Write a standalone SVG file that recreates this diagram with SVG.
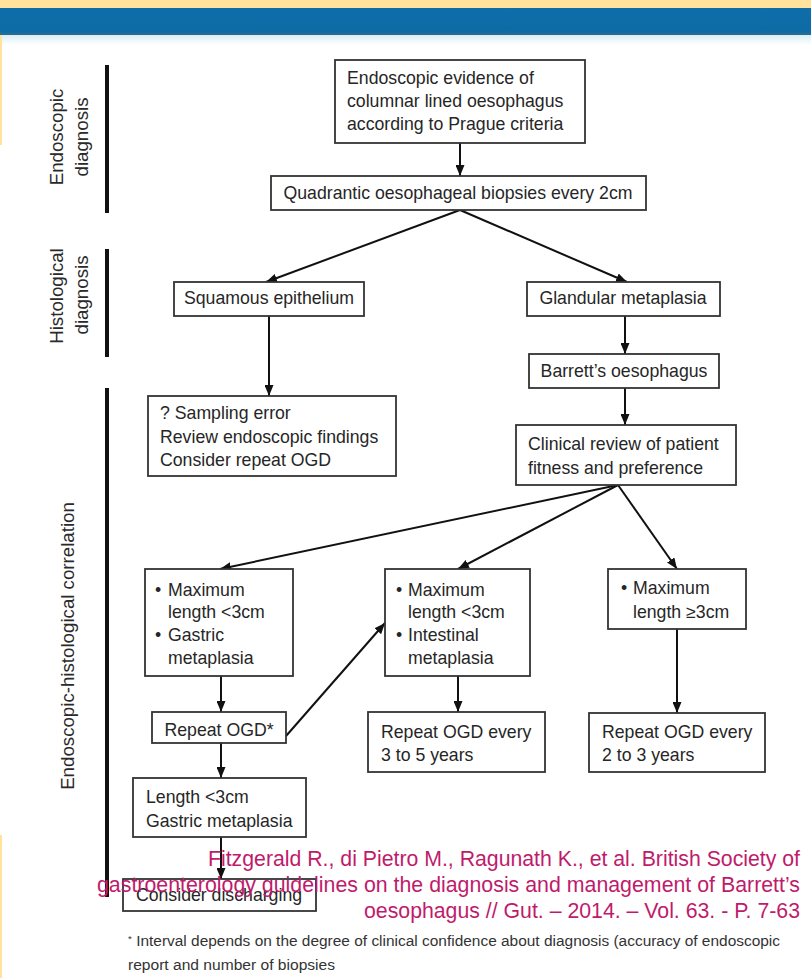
<svg xmlns="http://www.w3.org/2000/svg" width="811" height="978" viewBox="0 0 811 978">
<defs>
<linearGradient id="fade" x1="0" y1="0" x2="0" y2="1">
<stop offset="0" stop-color="#d8eef4"/>
<stop offset="1" stop-color="#ffffff"/>
</linearGradient>
<linearGradient id="band" x1="0" y1="0" x2="0" y2="1">
<stop offset="0" stop-color="#0f6ea9"/>
<stop offset="0.85" stop-color="#0d6ca6"/>
<stop offset="1" stop-color="#2b6f8e"/>
</linearGradient>
<marker id="ah" markerWidth="11" markerHeight="9" refX="11" refY="4.5" orient="auto" markerUnits="userSpaceOnUse">
<path d="M0,0 L11,4.5 L0,9 z" fill="#111"/>
</marker>
<style>
.box{fill:#fff;stroke:#333;stroke-width:1.8}
.t{font-family:"Liberation Sans",Arial,sans-serif;font-size:17.7px;fill:#262626}
.c{text-anchor:middle}
.lab{font-family:"Liberation Sans",Arial,sans-serif;font-size:18.7px;fill:#2a2a2a;text-anchor:middle}
.bar{fill:#111}
.con{stroke:#111;stroke-width:2;fill:none;marker-end:url(#ah)}
.cite{font-family:"Liberation Sans",Arial,sans-serif;font-size:22px;fill:#bf1b6c;text-anchor:end}
.fn{font-family:"Liberation Sans",Arial,sans-serif;font-size:14px;fill:#333}
</style>
</defs>
<rect x="0" y="0" width="811" height="978" fill="#fff"/>
<rect x="0" y="0" width="811" height="9" fill="#ffe29b"/>
<rect x="0" y="8" width="811" height="27" fill="url(#band)"/>
<rect x="0" y="35" width="811" height="10" fill="url(#fade)"/>
<rect x="0" y="35" width="2" height="110" fill="#ffe29b"/>
<rect x="0" y="835" width="2" height="143" fill="#ffe29b"/>

<g id="stage-labels">
<rect class="bar" x="105" y="65" width="4" height="148"/>
<rect class="bar" x="105" y="249" width="4" height="108"/>
<rect class="bar" x="105" y="388" width="4" height="509"/>
<text class="lab" transform="translate(63,137) rotate(-90)">Endoscopic</text>
<text class="lab" transform="translate(88,137) rotate(-90)">diagnosis</text>
<text class="lab" transform="translate(63,296) rotate(-90)">Histological</text>
<text class="lab" transform="translate(88,295) rotate(-90)">diagnosis</text>
<text class="lab" transform="translate(74,646) rotate(-90)">Endoscopic-histological  correlation</text>
</g>

<g id="connectors">
<line class="con" x1="460" y1="143" x2="460" y2="176"/>
<line class="con" x1="460" y1="210" x2="266" y2="282"/>
<line class="con" x1="460" y1="210" x2="627" y2="282"/>
<line class="con" x1="269" y1="316" x2="269" y2="396"/>
<line class="con" x1="625" y1="316" x2="625" y2="354"/>
<line class="con" x1="625" y1="388" x2="625" y2="425"/>
<line class="con" x1="618" y1="485" x2="220" y2="569"/>
<line class="con" x1="618" y1="485" x2="458" y2="569"/>
<line class="con" x1="618" y1="485" x2="677" y2="569"/>
<line class="con" x1="221" y1="676" x2="221" y2="712"/>
<line class="con" x1="458" y1="676" x2="458" y2="712"/>
<line class="con" x1="677" y1="629" x2="677" y2="713"/>
<line class="con" x1="286" y1="736" x2="385" y2="623"/>
<line class="con" x1="221" y1="743" x2="221" y2="778"/>
<line class="con" x1="221" y1="837" x2="221" y2="879"/>
</g>

<g id="n-evidence">
<rect class="box" x="335" y="60" width="250" height="83"/>
<text class="t" x="347" y="84">Endoscopic evidence of</text>
<text class="t" x="347" y="107">columnar lined oesophagus</text>
<text class="t" x="347" y="130">according to Prague criteria</text>
</g>
<g id="n-biopsies">
<rect class="box" x="271" y="176" width="375" height="34"/>
<text class="t c" x="458" y="199">Quadrantic oesophageal biopsies every 2cm</text>
</g>
<g id="n-squamous">
<rect class="box" x="174" y="282" width="190" height="34"/>
<text class="t c" x="269" y="304">Squamous epithelium</text>
</g>
<g id="n-glandular">
<rect class="box" x="527" y="282" width="193" height="34"/>
<text class="t c" x="623" y="304">Glandular metaplasia</text>
</g>
<g id="n-sampling">
<rect class="box" x="148" y="396" width="248" height="80"/>
<text class="t" x="160" y="419">? Sampling error</text>
<text class="t" x="160" y="443">Review endoscopic findings</text>
<text class="t" x="160" y="466">Consider repeat OGD</text>
</g>
<g id="n-barretts">
<rect class="box" x="529" y="354" width="190" height="34"/>
<text class="t c" x="624" y="377">Barrett’s oesophagus</text>
</g>
<g id="n-clinical">
<rect class="box" x="516" y="425" width="220" height="60"/>
<text class="t" x="528" y="450">Clinical review of patient</text>
<text class="t" x="528" y="474">fitness and preference</text>
</g>
<g id="n-gastric">
<rect class="box" x="145" y="569" width="148" height="107"/>
<text class="t" x="155" y="596">•</text>
<text class="t" x="168" y="596">Maximum</text>
<text class="t" x="168" y="618">length &lt;3cm</text>
<text class="t" x="155" y="641">•</text>
<text class="t" x="168" y="641">Gastric</text>
<text class="t" x="168" y="664">metaplasia</text>
</g>
<g id="n-intestinal">
<rect class="box" x="385" y="569" width="145" height="107"/>
<text class="t" x="396" y="596">•</text>
<text class="t" x="408" y="596">Maximum</text>
<text class="t" x="408" y="618">length &lt;3cm</text>
<text class="t" x="396" y="641">•</text>
<text class="t" x="408" y="641">Intestinal</text>
<text class="t" x="408" y="664">metaplasia</text>
</g>
<g id="n-long">
<rect class="box" x="608" y="569" width="138" height="60"/>
<text class="t" x="621" y="594">•</text>
<text class="t" x="633" y="594">Maximum</text>
<text class="t" x="633" y="618">length ≥3cm</text>
</g>
<g id="n-repeat">
<rect class="box" x="152" y="712" width="134" height="31"/>
<text class="t c" x="219" y="736">Repeat OGD*</text>
</g>
<g id="n-3to5">
<rect class="box" x="368" y="712" width="177" height="60"/>
<text class="t" x="381" y="738">Repeat OGD every</text>
<text class="t" x="381" y="761">3 to 5 years</text>
</g>
<g id="n-2to3">
<rect class="box" x="589" y="713" width="176" height="59"/>
<text class="t" x="602" y="738">Repeat OGD every</text>
<text class="t" x="602" y="761">2 to 3 years</text>
</g>
<g id="n-length">
<rect class="box" x="133" y="778" width="173" height="59"/>
<text class="t" x="146" y="803">Length &lt;3cm</text>
<text class="t" x="146" y="827">Gastric metaplasia</text>
</g>
<g id="n-discharge">
<rect class="box" x="123" y="879" width="193" height="32"/>
<text class="t c" x="219" y="901" fill="#444">Consider discharging</text>
</g>

<g id="citation">
<text class="cite" x="800" y="866" textLength="592" lengthAdjust="spacingAndGlyphs">Fitzgerald R., di Pietro M., Ragunath K., et al. British Society of</text>
<text class="cite" x="800" y="892" textLength="703" lengthAdjust="spacingAndGlyphs">gastroenterology guidelines on the diagnosis and management of Barrett’s</text>
<text class="cite" x="800" y="918" textLength="436" lengthAdjust="spacingAndGlyphs">oesophagus // Gut. – 2014. – Vol. 63. - P. 7-63</text>
</g>
<g id="footnote">
<text class="fn" x="128" y="946" textLength="652" lengthAdjust="spacingAndGlyphs"><tspan font-size="9" dy="-4">*</tspan><tspan dy="4"> Interval depends on the degree of clinical confidence about diagnosis (accuracy of endoscopic</tspan></text>
<text class="fn" x="128" y="970" textLength="207" lengthAdjust="spacingAndGlyphs">report and number of biopsies</text>
</g>
</svg>
